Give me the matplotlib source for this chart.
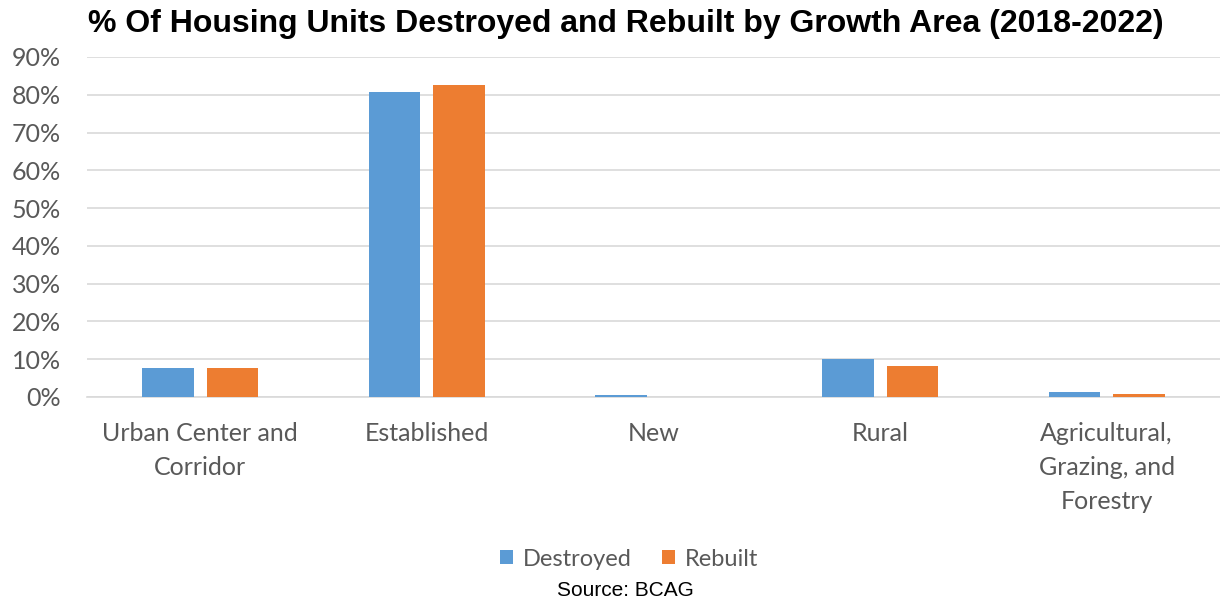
import matplotlib
matplotlib.use("Agg")
import matplotlib.pyplot as plt
import numpy as np
from matplotlib.ticker import FuncFormatter, MultipleLocator

categories = ["Urban Center and\nCorridor", "Established", "New", "Rural",
              "Agricultural,\nGrazing, and\nForestry"]
destroyed = [7.7, 80.7, 0.5, 10.0, 1.2]
rebuilt = [7.7, 82.6, 0.0, 8.2, 0.7]
series_names = ["Destroyed", "Rebuilt"]
colors = ["#5b9bd5", "#ed7d31"]

fig = plt.figure(figsize=(12.2, 6.04), dpi=100)
ax = fig.add_axes([87/1220, 1-397/604, 1-87/1220, (397-57)/604])

x = np.arange(len(categories))
w = 0.228
gap = 0.057
ax.bar(x - (w+gap)/2, destroyed, w, color=colors[0], label=series_names[0], zorder=3)
ax.bar(x + (w+gap)/2, rebuilt, w, color=colors[1], label=series_names[1], zorder=3)

ax.set_xlim(-0.5, len(categories)-0.5)
ax.set_ylim(0, 90)
ax.yaxis.set_major_locator(MultipleLocator(10))
ax.yaxis.set_major_formatter(FuncFormatter(lambda v, p: f"{v:.0f}%"))
ax.grid(axis="y", color="#d9d9d9", linewidth=1.2, zorder=0)
for s in ["top", "right", "left"]:
    ax.spines[s].set_visible(False)
ax.spines["bottom"].set_color("#d9d9d9")
ax.spines["bottom"].set_linewidth(1.2)
ax.tick_params(axis="both", length=0, colors="#595959", labelsize=18)
ax.tick_params(axis="y", pad=19)
ax.tick_params(axis="x", pad=18)
ax.set_xticks(x)
ax.set_xticklabels(categories, linespacing=1.58)
for t in ax.get_xticklabels() + ax.get_yticklabels():
    t.set_fontfamily("Lato")

fig.text(626/1220, 1-24/604, "% Of Housing Units Destroyed and Rebuilt by Growth Area (2018-2022)",
         ha="center", va="center", fontsize=23, fontweight="bold",
         fontfamily="Liberation Sans")

leg = fig.legend(loc="center", bbox_to_anchor=(629/1220, 1-559/604), ncol=2, frameon=False,
                 prop={"family": "Lato", "size": 17}, handlelength=0.55, handleheight=0.55,
                 columnspacing=1.3, handletextpad=0.4)
for t in leg.get_texts():
    t.set_color("#595959")

fig.text(625/1220, 1-590/604, "Source: BCAG", ha="center", va="center", fontsize=15,
         fontfamily="Liberation Sans", color="black")

fig.savefig("out.png", dpi=100)
